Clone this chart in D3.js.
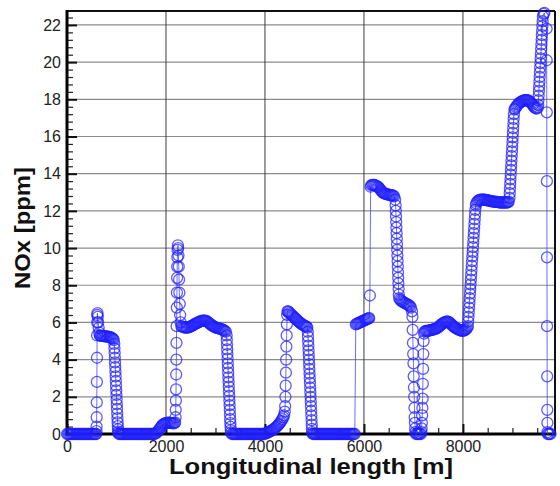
<!DOCTYPE html>
<html><head><meta charset="utf-8">
<script src="https://cdn.jsdelivr.net/npm/d3@7"></script>
<style>body{margin:0;background:#fff} svg{display:block}</style>
</head><body><svg id="chart" width="560" height="486"></svg>
<script>
// ---- tick labels ----
const xTickValues = [0, 2000, 4000, 6000, 8000];
const yTickValues = [0, 2, 4, 6, 8, 10, 12, 14, 16, 18, 20, 22];
const xLabel = "Longitudinal length [m]";
const yLabel = "NOx [ppm]";

// ---- series: [length m, NOx ppm], in sections ----
const section1 = [
  [0,0],[20,0],[40,0],[60,0],[80,0],[100,0],[120,0],[140,0],[160,0],[180,0],[200,0],[220,0],[240,0],[260,0],[280,0],
  [300,0],[320,0],[340,0],[360,0],[380,0],[400,0],[420,0],[440,0],[460,0],[480,0],[500,0],[520,0],[540,0],[560,0],[580,0],[590,0],
  [596,0.15],[598,0.4],[600,0.9],[602,1.7],[604,2.8],[606,4.1],[608,5.3],[610,6.0],[612,6.4],[616,6.5],[622,6.3],[630,6.0],[640,5.7],[652,5.45],[665,5.3],
  [672,5.29],[690,5.28],[710,5.28],[730,5.27],[750,5.26],[770,5.25],[790,5.25],[810,5.24],[830,5.23],[850,5.22],[870,5.21],[890,5.19],[910,5.16],[930,5.12],[945,5.05],
  [955,4.85],[959,4.6],[963,4.35],[967,4.1],[971,3.85],[975,3.6],[979,3.35],[983,3.1],[987,2.85],[991,2.6],[995,2.35],[999,2.1],
  [1003,1.85],[1007,1.6],[1011,1.35],[1015,1.1],[1019,0.85],[1023,0.62],[1027,0.42],[1031,0.25],[1035,0.12],[1039,0.04]
];
const section2 = [
  [1050,0],[1070,0],[1090,0],[1110,0],[1130,0],[1150,0],[1170,0],[1190,0],[1210,0],[1230,0],[1250,0],[1270,0],[1290,0],[1310,0],
  [1330,0],[1350,0],[1370,0],[1390,0],[1410,0],[1430,0],[1450,0],[1470,0],[1490,0],[1510,0],[1530,0],[1550,0],[1570,0],[1590,0],
  [1610,0],[1630,0],[1650,0],[1670,0],[1690,0],[1710,0],[1730,0],[1750,0],[1770,0],
  [1790,0.03],[1810,0.07],[1830,0.13],[1850,0.2],[1870,0.27],[1890,0.35],[1910,0.42],[1930,0.48],[1950,0.53],[1970,0.56],[1990,0.58],
  [2010,0.6],[2030,0.6],[2050,0.61],[2070,0.61],[2090,0.6],[2110,0.59],[2130,0.58],[2150,0.57],[2170,0.58],[2185,0.62],
  [2194,0.9],[2197,1.3],[2200,1.8],[2203,2.4],[2206,3.2],[2209,4.0],[2212,4.9],[2215,5.8],[2218,6.8],[2221,7.6],[2224,8.4],[2227,9.0],
  [2230,9.5],[2234,9.9],[2240,10.15],[2246,10.0],[2252,9.6],[2258,9.0],[2264,8.3],[2270,7.6],[2278,7.0],[2286,6.4],[2296,6.0],
  [2310,5.8],[2330,5.77],[2350,5.75],[2370,5.73],[2390,5.72],[2410,5.72],[2430,5.72],[2450,5.73],[2470,5.75],[2490,5.77],[2510,5.8],
  [2530,5.83],[2550,5.86],[2570,5.89],[2590,5.92],[2610,5.95],[2630,5.98],[2650,6.0],[2670,6.03],[2690,6.05],[2710,6.07],[2730,6.09],
  [2750,6.1],[2770,6.1],[2790,6.1],[2810,6.08],[2830,6.05],[2850,6.01],[2870,5.97],[2890,5.92],[2910,5.88],[2930,5.84],[2950,5.8],
  [2970,5.77],[2990,5.74],[3010,5.72],[3030,5.7],[3050,5.69],[3070,5.68],[3090,5.67],[3110,5.65],[3130,5.63],[3150,5.6],[3170,5.57],
  [3190,5.54],[3210,5.5],
  [3225,5.3],[3229,5.05],[3233,4.8],[3237,4.55],[3241,4.3],[3245,4.05],[3249,3.8],[3253,3.55],[3257,3.3],[3261,3.05],[3265,2.8],[3269,2.55],
  [3273,2.3],[3277,2.05],[3281,1.8],[3285,1.55],[3289,1.3],[3293,1.05],[3297,0.8],[3301,0.58],[3305,0.38],[3309,0.2],[3313,0.08]
];
const section3 = [
  [3330,0],[3350,0],[3370,0],[3390,0],[3410,0],[3430,0],[3450,0],[3470,0],[3490,0],[3510,0],[3530,0],[3550,0],[3570,0],[3590,0],
  [3610,0],[3630,0],[3650,0],[3670,0],[3690,0],[3710,0],[3730,0],[3750,0],[3770,0],[3790,0],[3810,0],[3830,0],[3850,0],[3870,0],
  [3890,0],[3910,0],[3930,0],[3950,0],[3970,0],[3990,0],
  [4010,0.03],[4030,0.05],[4050,0.07],[4070,0.1],[4090,0.12],[4110,0.15],[4130,0.18],[4150,0.21],[4170,0.25],[4190,0.29],[4210,0.33],
  [4230,0.38],[4250,0.43],[4270,0.49],[4290,0.55],[4310,0.62],[4330,0.7],[4350,0.8],[4370,0.9],[4385,1.0],[4400,1.2],
  [4408,1.5],[4413,2.0],[4418,2.6],[4423,3.3],[4428,4.0],[4433,4.7],[4438,5.3],[4443,5.9],[4448,6.4],[4456,6.6],[4468,6.6],
  [4480,6.55],[4500,6.5],[4520,6.45],[4540,6.4],[4560,6.35],[4580,6.3],[4600,6.25],[4620,6.2],[4640,6.15],[4660,6.1],[4680,6.05],
  [4700,6.0],[4720,5.95],[4740,5.92],[4760,5.88],[4780,5.85],[4800,5.82],[4820,5.8],[4840,5.77],[4855,5.72],
  [4865,5.5],[4869,5.25],[4873,5.0],[4877,4.75],[4881,4.5],[4885,4.25],[4889,4.0],[4893,3.75],[4897,3.5],[4901,3.25],[4905,3.0],[4909,2.75],
  [4913,2.5],[4917,2.25],[4921,2.0],[4925,1.75],[4929,1.5],[4933,1.25],[4937,1.0],[4941,0.75],[4945,0.5],[4949,0.28],[4953,0.1],[4961,0.02]
];
const section4 = [
  [4975,0],[4995,0],[5015,0],[5035,0],[5055,0],[5075,0],[5095,0],[5115,0],[5135,0],[5155,0],[5175,0],[5195,0],[5215,0],[5235,0],
  [5255,0],[5275,0],[5295,0],[5315,0],[5335,0],[5355,0],[5375,0],[5395,0],[5415,0],[5435,0],[5455,0],[5475,0],[5495,0],[5515,0],
  [5535,0],[5555,0],[5575,0],[5595,0],[5615,0],[5635,0],[5655,0],[5675,0],[5695,0],[5715,0],[5735,0],[5755,0],[5775,0],[5795,0],[5815,0],
  [5835,5.9],[5855,5.92],[5875,5.95],[5895,5.97],[5915,6.0],[5935,6.02],[5955,6.05],[5975,6.07],[5995,6.1],[6015,6.12],[6035,6.15],
  [6055,6.17],[6075,6.2],[6095,6.22],[6105,6.23],
  [6120,7.45],[6135,13.3],
  [6150,13.38],[6170,13.4],[6190,13.4],[6210,13.4],[6230,13.37],[6250,13.35],[6270,13.32],[6290,13.28],[6310,13.22],[6330,13.15],
  [6350,13.08],[6370,13.02],[6390,12.97],[6410,12.94],[6430,12.92],[6450,12.9],[6470,12.89],[6490,12.88],[6510,12.86],[6530,12.85],
  [6550,12.85],[6570,12.84],[6590,12.82],[6610,12.78],[6630,12.6],
  [6640,12.3],[6644,12.0],[6648,11.7],[6652,11.4],[6656,11.1],[6660,10.8],[6664,10.5],[6668,10.2],[6672,9.9],[6676,9.6],[6680,9.3],
  [6684,9.0],[6688,8.7],[6692,8.4],[6696,8.1],[6700,7.8],[6704,7.5],
  [6712,7.3],[6730,7.22],[6750,7.17],[6770,7.13],[6790,7.1],[6810,7.07],[6830,7.04],[6850,7.01],[6870,6.98],[6890,6.95],[6910,6.92],
  [6930,6.88],[6950,6.8],[6970,6.6],
  [6980,6.3],[6985,5.6],[6990,4.9],[6995,4.3],[7000,3.8],[7005,3.1],[7010,2.5],[7015,2.0],[7020,1.4],[7025,0.9],[7030,0.6],[7035,0.3],[7040,0.1]
];
const section5 = [
  [7050,0],[7070,0],[7090,0],[7110,0],[7130,0],[7150,0],
  [7160,0.1],[7165,0.3],[7170,0.6],[7175,1.0],[7180,1.4],[7185,1.9],[7190,2.7],[7195,3.5],[7200,4.3],[7205,5.0],[7215,5.4],
  [7225,5.5],[7245,5.55],[7265,5.55],[7285,5.55],[7305,5.56],[7325,5.57],[7345,5.58],[7365,5.6],[7385,5.61],[7405,5.62],[7425,5.64],
  [7445,5.65],[7465,5.68],[7485,5.71],[7505,5.75],[7525,5.8],[7545,5.85],[7565,5.9],[7585,5.94],[7605,5.97],[7625,6.0],[7645,6.02],
  [7665,6.04],[7685,6.05],[7705,6.03],[7725,6.0],[7745,5.95],[7765,5.9],[7785,5.85],[7805,5.8],[7825,5.75],[7845,5.72],[7865,5.68],
  [7885,5.65],[7905,5.62],[7925,5.6],[7945,5.58],[7965,5.56],[7985,5.55],[8005,5.55],[8025,5.57],[8045,5.6],[8065,5.64],[8085,5.7],
  [8100,5.8],[8106,6.05],[8112,6.3],[8118,6.55],[8124,6.8],[8130,7.05],[8136,7.3],[8142,7.55],[8148,7.8],[8154,8.05],[8160,8.3],
  [8166,8.55],[8172,8.8],[8178,9.05],[8184,9.3],[8190,9.55],[8196,9.8],[8202,10.05],[8208,10.3],[8214,10.55],[8220,10.8],[8226,11.05],
  [8232,11.3],[8238,11.55],[8244,11.8],[8250,12.05],[8262,12.3],
  [8270,12.4],[8290,12.5],[8310,12.55],[8330,12.58],[8350,12.6],[8370,12.6],[8390,12.6],[8410,12.6],[8430,12.6],[8450,12.6],[8470,12.58],
  [8490,12.57],[8510,12.56],[8530,12.55],[8550,12.53],[8570,12.52],[8590,12.51],[8610,12.5],[8630,12.5],[8650,12.49],[8670,12.48],
  [8690,12.48],[8710,12.47],[8730,12.46],[8750,12.45],[8770,12.45],[8790,12.45],[8810,12.45],[8830,12.45],[8850,12.45],[8870,12.45],
  [8890,12.45],[8910,12.47],[8925,12.5],
  [8940,12.7],[8945,12.95],[8950,13.2],[8955,13.45],[8960,13.7],[8965,13.95],[8970,14.2],[8975,14.45],[8980,14.7],[8985,14.95],[8990,15.2],
  [8995,15.45],[9000,15.7],[9005,15.95],[9010,16.2],[9015,16.45],[9020,16.7],[9025,16.95],[9030,17.2],[9042,17.45],
  [9050,17.5],[9070,17.58],[9090,17.65],[9110,17.72],[9130,17.78],[9150,17.82],[9170,17.86],[9190,17.89],[9210,17.92],[9230,17.94],
  [9250,17.95],[9270,17.96],[9290,17.96],[9310,17.95],[9330,17.92],[9350,17.88],[9370,17.83],[9390,17.77],[9410,17.7],[9430,17.62],
  [9450,17.56],[9470,17.52],[9490,17.5],[9510,17.55],
  [9520,17.7],[9525,17.95],[9530,18.2],[9535,18.45],[9540,18.7],[9545,18.95],[9550,19.2],[9555,19.45],[9560,19.7],[9565,19.95],
  [9570,20.2],[9575,20.45],[9580,20.7],[9585,20.95],[9590,21.2],[9595,21.45],[9600,21.7],[9605,21.95],[9610,22.2],[9615,22.45],
  [9630,22.6],[9645,22.65],
  [9690,21.8],[9692,20.1],[9694,17.3],[9696,13.6],[9698,9.5],[9700,5.8],[9702,3.1],[9704,1.3],[9706,0.6],[9708,0.1],
  [9712,0],[9730,0],[9750,0],[9770,0]
];

const data = [...section1, ...section2, ...section3, ...section4, ...section5].map(d => ({x: d[0], y: d[1]}));

const svg = d3.select("#chart");
const L = 67, R = 555, T = 11, B = 434;
const x = d3.scaleLinear().domain([0, 9860]).range([L, R]);
const y = d3.scaleLinear().domain([0, 22.75]).range([B, T]);
const FONT = "'Liberation Sans', Arial, Helvetica, sans-serif";

// grid
const grid = svg.append("g");
grid.selectAll("line.h").data(yTickValues.filter(v => v > 0)).join("line")
  .attr("x1", L).attr("x2", R).attr("y1", d => y(d)).attr("y2", d => y(d))
  .attr("stroke", "#8c8c8c").attr("stroke-width", 1.2);
grid.selectAll("line.v").data(xTickValues.filter(v => v > 0)).join("line")
  .attr("y1", T).attr("y2", B).attr("x1", d => x(d)).attr("x2", d => x(d))
  .attr("stroke", "#3a3a3a").attr("stroke-width", 1);

// minor ticks
const yMinor = d3.range(0.4, 22.75, 0.4).filter(v => Math.abs(v / 2 - Math.round(v / 2)) > 0.01);
const xMinor = d3.range(500, 9860, 500).filter(v => v % 2000 !== 0);
const yMinorAxis = svg.append("g").attr("transform", `translate(${L},0)`)
  .call(d3.axisLeft(y).tickValues(yMinor).tickSize(-6).tickSizeOuter(0).tickFormat(""));
const xMinorAxis = svg.append("g").attr("transform", `translate(0,${B})`)
  .call(d3.axisBottom(x).tickValues(xMinor).tickSize(-6).tickSizeOuter(0).tickFormat(""));
[yMinorAxis, xMinorAxis].forEach(g => {
  g.select(".domain").remove();
  g.selectAll(".tick line").attr("stroke", "#222").attr("stroke-width", 1.2);
});

// major axes
const yAxis = svg.append("g").attr("transform", `translate(${L},0)`)
  .call(d3.axisLeft(y).tickValues(yTickValues).tickFormat(d3.format("d")).tickSize(-10).tickSizeOuter(0).tickPadding(6));
const xAxis = svg.append("g").attr("transform", `translate(0,${B})`)
  .call(d3.axisBottom(x).tickValues(xTickValues).tickFormat(d3.format("d")).tickSize(-10).tickSizeOuter(0).tickPadding(7));
[yAxis, xAxis].forEach(g => {
  g.select(".domain").remove();
  g.selectAll(".tick line").attr("stroke", "#111").attr("stroke-width", 2);
  g.selectAll(".tick text").attr("font-family", FONT)
    .attr("font-size", 16).attr("fill", "#222");
});

// frame
svg.append("line").attr("x1", L).attr("x2", R).attr("y1", T).attr("y2", T).attr("stroke", "#111").attr("stroke-width", 2);
svg.append("line").attr("x1", R).attr("x2", R).attr("y1", T).attr("y2", B).attr("stroke", "#111").attr("stroke-width", 2);
svg.append("line").attr("x1", L).attr("x2", L).attr("y1", T - 1).attr("y2", B + 1.5).attr("stroke", "#000").attr("stroke-width", 3);
svg.append("line").attr("x1", L - 1.5).attr("x2", R + 1).attr("y1", B).attr("y2", B).attr("stroke", "#000").attr("stroke-width", 3);

// series
const line = d3.line().x(d => x(d.x)).y(d => y(d.y));
svg.append("path").datum(data).attr("d", line)
  .attr("fill", "none").attr("stroke", "#3c3cff").attr("stroke-opacity", 0.75).attr("stroke-width", 1);
svg.append("g").selectAll("circle").data(data).join("circle")
  .attr("cx", d => x(d.x)).attr("cy", d => y(d.y)).attr("r", 5.5)
  .attr("fill", "none").attr("stroke", "rgb(30,30,255)").attr("stroke-opacity", 0.72).attr("stroke-width", 1.3);

// labels
svg.append("text").attr("x", (L + R) / 2).attr("y", 474).attr("text-anchor", "middle")
  .attr("font-family", FONT).attr("font-weight", "bold")
  .attr("font-size", 22).attr("textLength", 284).attr("lengthAdjust", "spacingAndGlyphs")
  .attr("fill", "#111").text(xLabel);
svg.append("text").attr("transform", "translate(30,228) rotate(-90)").attr("text-anchor", "middle")
  .attr("font-family", FONT).attr("font-weight", "bold")
  .attr("font-size", 22).attr("textLength", 122).attr("lengthAdjust", "spacingAndGlyphs")
  .attr("fill", "#111").text(yLabel);
</script></body></html>
